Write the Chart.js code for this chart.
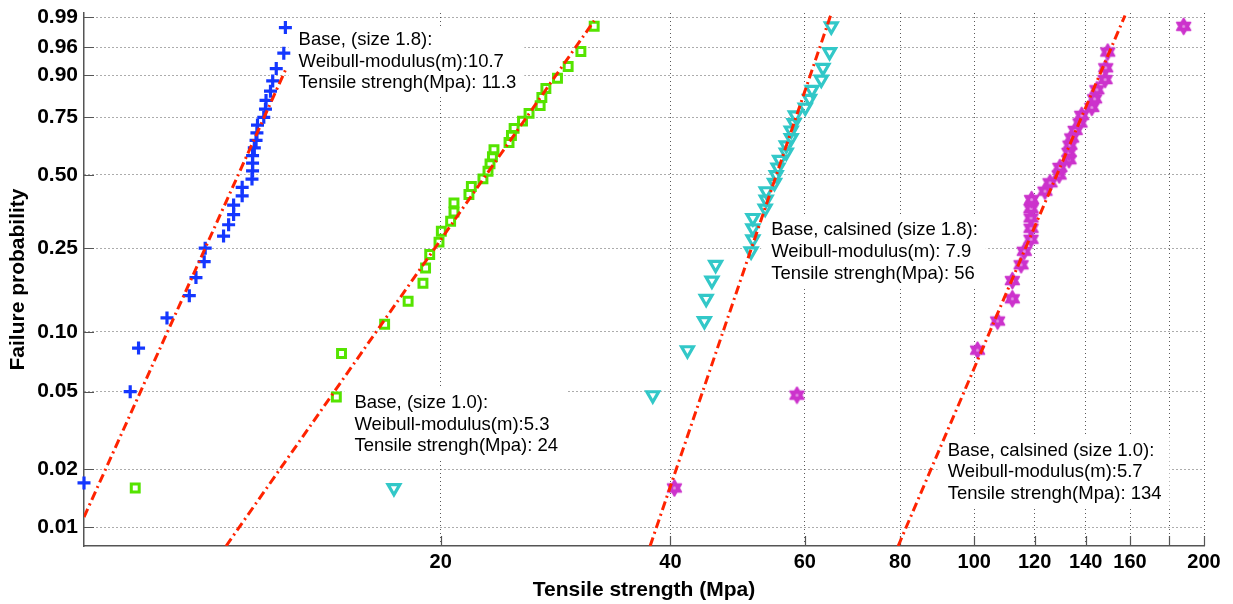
<!DOCTYPE html>
<html>
<head>
<meta charset="utf-8">
<title>Weibull plot - tensile strength</title>
<script src="https://cdn.jsdelivr.net/npm/chart.js@4.4.1/dist/chart.umd.min.js"></script>
<style>
  html, body { margin: 0; padding: 0; background: #fff; }
</style>
</head>
<body>
<canvas id="weibull-chart" width="1233" height="604"></canvas>
<script>
// axis ticks (failure probability on a Weibull scale, strength on a log scale)
const probTicks = [0.01, 0.02, 0.05, 0.10, 0.25, 0.50, 0.75, 0.90, 0.96, 0.99];
const probTickLabels = ['0.01', '0.02', '0.05', '0.10', '0.25', '0.50', '0.75', '0.90', '0.96', '0.99'];
const strengthTicks = [20, 40, 60, 80, 100, 120, 140, 160, 180, 200];
const strengthTickLabels = ['20', '40', '60', '80', '100', '120', '140', '160', '', '200'];

// Base, size 1.8
const base18Strength = [6.82, 7.84, 8.04, 8.76, 9.37, 9.56, 9.80, 9.83, 10.39, 10.55, 10.71, 10.71, 10.99, 10.99, 11.32,
  11.34, 11.34, 11.34, 11.40, 11.46, 11.49, 11.51, 11.73, 11.79, 11.81, 11.97, 12.05, 12.18, 12.46, 12.52];
const base18Prob = [0.017, 0.050, 0.083, 0.117, 0.150, 0.183, 0.217, 0.250, 0.283, 0.317, 0.350, 0.383, 0.417, 0.450, 0.483,
  0.517, 0.550, 0.583, 0.617, 0.650, 0.683, 0.717, 0.750, 0.783, 0.817, 0.850, 0.883, 0.917, 0.950, 0.983];

// Base, size 1.0
const base10Strength = [7.96, 14.60, 14.83, 16.89, 18.13, 18.96, 19.11, 19.35, 19.90, 20.04, 20.61, 20.82, 20.82, 21.78, 21.94, 22.72,
  23.07, 23.21, 23.38, 23.49, 24.58, 24.76, 24.96, 25.60, 26.11, 27.00, 27.14, 27.47, 28.45, 29.38, 30.53, 31.78];
const base10Prob = [0.016, 0.047, 0.078, 0.109, 0.141, 0.172, 0.203, 0.234, 0.266, 0.297, 0.328, 0.359, 0.391, 0.422, 0.453, 0.484,
  0.516, 0.547, 0.578, 0.609, 0.641, 0.672, 0.703, 0.734, 0.766, 0.797, 0.828, 0.859, 0.891, 0.922, 0.953, 0.984];

// Base, calsined, size 1.8
const calc18Strength = [17.37, 37.92, 42.10, 44.31, 44.55, 45.33, 45.84, 51.02, 51.29, 51.29, 51.29, 53.23, 53.39, 53.39, 54.75, 55.03,
  55.32, 55.59, 56.73, 56.73, 57.58, 57.58, 58.06, 58.29, 60.07, 60.85, 61.30, 63.05, 63.37, 64.65, 64.98];
const calc18Prob = [0.016, 0.048, 0.081, 0.113, 0.145, 0.177, 0.210, 0.242, 0.274, 0.306, 0.339, 0.371, 0.403, 0.435, 0.468, 0.500,
  0.532, 0.565, 0.597, 0.629, 0.661, 0.694, 0.726, 0.758, 0.790, 0.823, 0.855, 0.887, 0.919, 0.952, 0.984];

// Base, calsined, size 1.0
const calc10Strength = [40.48, 58.59, 101.0, 107.3, 112.2, 112.2, 115.2, 116.3, 118.7, 118.7, 118.7, 118.7, 118.9, 123.8, 125.7, 129.2,
  129.5, 133.1, 133.1, 133.5, 134.2, 135.6, 137.6, 138.3, 142.6, 143.8, 144.8, 148.4, 148.7, 149.6, 188.1];
const calc10Prob = [0.016, 0.048, 0.081, 0.113, 0.145, 0.177, 0.210, 0.242, 0.274, 0.306, 0.339, 0.371, 0.403, 0.435, 0.468, 0.500,
  0.532, 0.565, 0.597, 0.629, 0.661, 0.694, 0.726, 0.758, 0.790, 0.823, 0.855, 0.887, 0.919, 0.952, 0.984];

// fitted Weibull lines (end points as drawn)
const fitBase18Strength = [6.82, 12.52];
const fitBase18Prob = [0.0113, 0.913];
const fitBase10Strength = [10.47, 31.78];
const fitBase10Prob = [0.008, 0.988];
const fitCalc18Strength = [37.62, 64.85];
const fitCalc18Prob = [0.008, 0.991];
const fitCalc10Strength = [79.5, 157.6];
const fitCalc10Prob = [0.008, 0.991];

// text boxes, anchored at the first line (strength, probability)
const notes = [
  { x: 13.03, p: 0.970, lines: ['Base, (size 1.8):', 'Weibull-modulus(m):10.7', 'Tensile strengh(Mpa): 11.3'] },
  { x: 15.42, p: 0.0438, lines: ['Base, (size 1.0):', 'Weibull-modulus(m):5.3', 'Tensile strengh(Mpa): 24'] },
  { x: 54.2, p: 0.300, lines: ['Base, calsined (size 1.8):', 'Weibull-modulus(m): 7.9', 'Tensile strengh(Mpa): 56'] },
  { x: 92.3, p: 0.025, lines: ['Base, calsined (size 1.0):', 'Weibull-modulus(m):5.7', 'Tensile strengh(Mpa): 134'] },
];

const FONT = "'Liberation Sans', Arial, Helvetica, sans-serif";
const axisColor = '#555555';
const fitColor = 'rgb(255, 35, 0)';

// Weibull probability scale: ln(-ln(1-p))
const weib = (p) => Math.log(-Math.log(1 - p));
const toPoints = (xs, ps) => xs.map((x, i) => ({ x: x, y: weib(ps[i]) }));

function hexagramMarker(color, size) {
  const c = document.createElement('canvas');
  c.width = size;
  c.height = size;
  const g = c.getContext('2d');
  const r = size / 2 - 1.5;
  const cx = size / 2, cy = size / 2;
  g.fillStyle = color;
  g.strokeStyle = color;
  g.lineWidth = 1.6;
  g.lineJoin = 'round';
  [0, Math.PI].forEach((rot) => {
    g.beginPath();
    for (let k = 0; k < 3; k++) {
      const a = rot + k * 2 * Math.PI / 3;
      const px = cx + r * Math.sin(a), py = cy - r * Math.cos(a);
      if (k) g.lineTo(px, py); else g.moveTo(px, py);
    }
    g.closePath();
    g.fill();
    g.stroke();
  });
  g.fillStyle = 'rgba(255,255,255,0.45)';
  g.beginPath();
  g.arc(cx, cy, 1.5, 0, 2 * Math.PI);
  g.fill();
  return c;
}

function fitLine(xs, ps) {
  return {
    data: toPoints(xs, ps),
    showLine: true,
    borderColor: fitColor,
    borderWidth: 3,
    borderDash: [9, 4, 2, 4],
    pointRadius: 0,
    fill: false,
    order: 0,
  };
}

// white boxes with the text, drawn over the grid but under the marks
const notesPlugin = {
  id: 'notes',
  beforeDatasetsDraw(chart) {
    const { ctx, scales: { x, y } } = chart;
    ctx.save();
    ctx.font = '18.5px ' + FONT;
    ctx.textBaseline = 'middle';
    notes.forEach((n) => {
      const left = x.getPixelForValue(n.x);
      const top = y.getPixelForValue(weib(n.p));
      const w = Math.max(...n.lines.map((l) => ctx.measureText(l).width));
      const step = 21.6;
      ctx.fillStyle = '#ffffff';
      ctx.fillRect(left - 10, top - 14, w + 18, step * (n.lines.length - 1) + 27);
      ctx.fillStyle = '#000000';
      n.lines.forEach((l, i) => ctx.fillText(l, left, top + i * step));
    });
    // tick marks pointing into the plot
    const a = chart.chartArea;
    ctx.strokeStyle = axisColor;
    ctx.lineWidth = 1.2;
    ctx.beginPath();
    x.ticks.forEach((t) => {
      const px = Math.round(x.getPixelForValue(t.value)) + 0.5;
      ctx.moveTo(px, a.bottom);
      ctx.lineTo(px, a.bottom - 10);
    });
    y.ticks.forEach((t) => {
      const py = Math.round(y.getPixelForValue(t.value)) + 0.5;
      ctx.moveTo(a.left, py);
      ctx.lineTo(a.left + 10, py);
    });
    ctx.stroke();
    ctx.restore();
  },
};

const ctxWeibull = document.getElementById('weibull-chart').getContext('2d');

const weibullChart = new Chart(ctxWeibull, {
  type: 'scatter',
  data: {
    datasets: [
      fitLine(fitBase18Strength, fitBase18Prob),
      fitLine(fitBase10Strength, fitBase10Prob),
      fitLine(fitCalc18Strength, fitCalc18Prob),
      fitLine(fitCalc10Strength, fitCalc10Prob),
      {
        data: toPoints(base18Strength, base18Prob),
        pointStyle: 'cross',
        pointRadius: 6.5,
        borderColor: 'rgb(20, 55, 255)',
        borderWidth: 3.2,
        clip: false,
        order: 1,
      },
      {
        data: toPoints(base10Strength, base10Prob),
        pointStyle: 'rect',
        pointRadius: 5.6,
        borderColor: 'rgb(85, 228, 0)',
        backgroundColor: 'rgba(0,0,0,0)',
        borderWidth: 3,
        clip: false,
        order: 1,
      },
      {
        data: toPoints(calc18Strength, calc18Prob),
        pointStyle: 'triangle',
        rotation: 180,
        pointRadius: 6.8,
        borderColor: 'rgb(50, 200, 200)',
        backgroundColor: 'rgba(0,0,0,0)',
        borderWidth: 3.2,
        clip: false,
        order: 1,
      },
      {
        data: toPoints(calc10Strength, calc10Prob),
        pointStyle: hexagramMarker('rgb(204, 51, 204)', 19),
        pointRadius: 8,
        borderColor: 'rgb(204, 51, 204)',
        clip: false,
        order: 1,
      },
    ],
  },
  options: {
    responsive: false,
    animation: false,
    devicePixelRatio: 1,
    layout: {
      padding: { top: 13, right: 29, bottom: 0, left: 0 },
    },
    plugins: {
      legend: { display: false },
      tooltip: { enabled: false },
    },
    scales: {
      x: {
        type: 'logarithmic',
        min: 6.82,
        max: 200,
        afterBuildTicks: (scale) => {
          scale.ticks = strengthTicks.map((v) => ({ value: v }));
        },
        afterFit: (scale) => {
          scale.height = 58;
          scale.paddingLeft = 0;
          scale.paddingRight = 0;
        },
        ticks: {
          autoSkip: false,
          maxRotation: 0,
          padding: 4,
          color: '#000',
          font: { family: FONT, size: 20, weight: 'bold' },
          callback: (value, index) => strengthTickLabels[index],
        },
        grid: {
          drawTicks: false,
          color: 'rgba(60,60,60,0.85)',
          lineWidth: 1,
        },
        border: {
          display: true,
          color: axisColor,
          width: 1.5,
          dash: [1, 3],
        },
        title: {
          display: true,
          text: 'Tensile strength (Mpa)',
          color: '#000',
          font: { family: FONT, size: 21, weight: 'bold' },
          padding: { top: 0, bottom: 1 },
        },
      },
      y: {
        type: 'linear',
        min: weib(0.008),
        max: weib(0.9922),
        afterBuildTicks: (scale) => {
          scale.ticks = probTicks.map((p) => ({ value: weib(p) }));
        },
        afterFit: (scale) => {
          scale.width = 84;
          scale.paddingTop = 0;
          scale.paddingBottom = 0;
        },
        ticks: {
          autoSkip: false,
          padding: 6,
          color: '#000',
          font: { family: FONT, size: 21, weight: 'bold' },
          callback: (value, index) => probTickLabels[index],
        },
        grid: {
          drawTicks: false,
          color: 'rgba(60,60,60,0.85)',
          lineWidth: 1,
        },
        border: {
          display: true,
          color: axisColor,
          width: 1.5,
          dash: [1, 3],
        },
        title: {
          display: true,
          text: 'Failure probability',
          color: '#000',
          font: { family: FONT, size: 21, weight: 'bold' },
          padding: { top: 6, bottom: 0 },
        },
      },
    },
  },
  plugins: [notesPlugin],
});
</script>
</body>
</html>
